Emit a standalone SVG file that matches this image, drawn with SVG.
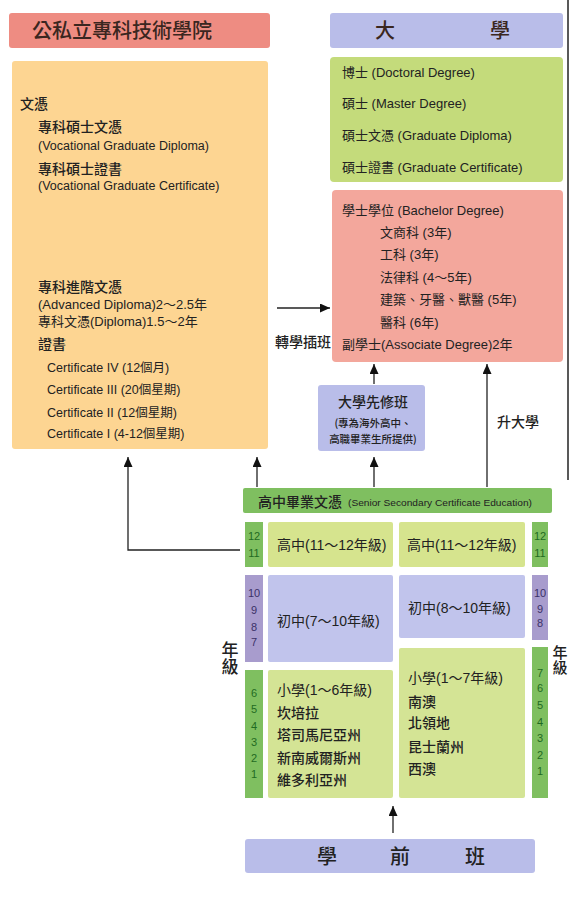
<svg xmlns="http://www.w3.org/2000/svg" width="572" height="907" viewBox="0 0 572 907">
<defs>
<marker id="arr" markerUnits="userSpaceOnUse" markerWidth="10" markerHeight="9" refX="10" refY="4.5" orient="auto">
<path d="M0,0 L10,4.5 L0,9 z" fill="#111"/>
</marker>
<style>
text{font-family:"Liberation Sans","Noto Sans CJK TC",sans-serif;fill:#222;}
.cj{font-family:"Noto Sans CJK TC","Noto Sans CJK JP",sans-serif;font-weight:500;}
.vt{writing-mode:vertical-rl;}
.hd{font-size:20px;fill:#3a2620;}
.t14{font-size:14px;}
.t13{font-size:13px;}
.t12{font-size:12.5px;}
.num{font-size:11px;text-anchor:middle;}
.gn{fill:#1f6b22;}
.pn{fill:#3b3168;}
.conn{stroke:#222;stroke-width:1.3;fill:none;}
.box{stroke:none;}
</style>
</defs>
<rect width="572" height="907" fill="#ffffff"/>
<line x1="568" y1="0" x2="568" y2="480" stroke="#222" stroke-width="1.5"/>

<g id="hdr-college">
<rect class="box" x="9" y="13" width="261" height="35" rx="3" fill="#ee8c82"/>
<text class="hd cj" x="32" y="38">公私立專科技術學院</text>
</g>

<g id="hdr-university">
<rect class="box" x="330" y="13" width="233" height="35" rx="3" fill="#b9bde9"/>
<text class="hd cj" x="385" y="38" text-anchor="middle">大</text>
<text class="hd cj" x="500" y="38" text-anchor="middle">學</text>
</g>

<g id="college-box">
<rect class="box" x="12" y="61" width="256" height="388" rx="3" fill="#fdd592"/>
<text class="t14 cj" x="20" y="109">文憑</text>
<text class="t14 cj" x="38" y="132">專科碩士文憑</text>
<text class="t12" x="38" y="150">(Vocational Graduate Diploma)</text>
<text class="t14 cj" x="38" y="174">專科碩士證書</text>
<text class="t12" x="38" y="190">(Vocational Graduate Certificate)</text>
<text class="t14 cj" x="38" y="292">專科進階文憑</text>
<text class="t13" x="38" y="309">(Advanced Diploma)2～2.5年</text>
<text class="t13" x="38" y="326">專科文憑(Diploma)1.5～2年</text>
<text class="t14 cj" x="38" y="349">證書</text>
<text class="t12" x="47" y="372">Certificate IV (12個月)</text>
<text class="t12" x="47" y="394">Certificate III (20個星期)</text>
<text class="t12" x="47" y="417">Certificate II (12個星期)</text>
<text class="t12" x="47" y="438">Certificate I  (4-12個星期)</text>
</g>

<g id="postgrad-box">
<rect class="box" x="330" y="57" width="233" height="125" rx="4" fill="#c4db7b"/>
<text class="t13" x="342" y="77">博士 (Doctoral Degree)</text>
<text class="t13" x="342" y="108">碩士 (Master Degree)</text>
<text class="t13" x="342" y="140">碩士文憑 (Graduate Diploma)</text>
<text class="t13" x="342" y="172">碩士證書 (Graduate Certificate)</text>
</g>

<g id="bachelor-box">
<rect class="box" x="332" y="190" width="231" height="172" rx="4" fill="#f3a79c"/>
<text class="t13" x="342" y="215">學士學位 (Bachelor Degree)</text>
<text class="t13" x="380" y="237">文商科 (3年)</text>
<text class="t13" x="380" y="259">工科 (3年)</text>
<text class="t13" x="380" y="282">法律科 (4～5年)</text>
<text class="t13" x="380" y="304">建築、牙醫、獸醫 (5年)</text>
<text class="t13" x="380" y="327">醫科 (6年)</text>
<text class="t13" x="342" y="349">副學士(Associate Degree)2年</text>
</g>

<g id="foundation-box">
<rect class="box" x="318" y="385" width="107" height="66" rx="3" fill="#b9bde9"/>
<text class="t14 cj" x="373" y="407" text-anchor="middle">大學先修班</text>
<text class="cj" x="373" y="427" text-anchor="middle" style="font-size:10.5px">(專為海外高中、</text>
<text class="cj" x="373" y="443" text-anchor="middle" style="font-size:10.5px">高職畢業生所提供)</text>
</g>

<g id="ssce-bar">
<rect class="box" x="243" y="488" width="309" height="25" rx="2" fill="#7fbf60"/>
<text class="t14 cj" x="258" y="507">高中畢業文憑</text>
<text x="348" y="506" style="font-size:9.5px" textLength="184" lengthAdjust="spacingAndGlyphs">(Senior Secondary Certificate Education)</text>
</g>

<g id="senior-high">
<rect class="box" x="245" y="522" width="18" height="45" fill="#7fbf60"/>
<text class="num gn" x="254" y="540">12</text>
<text class="num gn" x="254" y="557">11</text>
<rect class="box" x="268" y="522" width="125" height="45" rx="2" fill="#d6e48e"/>
<text class="t14" x="277" y="550">高中(11～12年級)</text>
<rect class="box" x="399" y="522" width="126" height="45" rx="2" fill="#d6e48e"/>
<text class="t14" x="407" y="550">高中(11～12年級)</text>
<rect class="box" x="532" y="522" width="16" height="45" fill="#7fbf60"/>
<text class="num gn" x="540" y="540">12</text>
<text class="num gn" x="540" y="557">11</text>
</g>

<g id="junior-high">
<rect class="box" x="245" y="575" width="18" height="87" fill="#a89ccd"/>
<text class="num pn" x="254" y="597">10</text>
<text class="num pn" x="254" y="614">9</text>
<text class="num pn" x="254" y="631">8</text>
<text class="num pn" x="254" y="646">7</text>
<rect class="box" x="268" y="575" width="125" height="87" rx="2" fill="#c1c4ec"/>
<text class="t14" x="277" y="626">初中(7～10年級)</text>
<rect class="box" x="399" y="575" width="126" height="63" rx="2" fill="#c1c4ec"/>
<text class="t14" x="408" y="613">初中(8～10年級)</text>
<rect class="box" x="532" y="575" width="16" height="65" fill="#a89ccd"/>
<text class="num pn" x="540" y="597">10</text>
<text class="num pn" x="540" y="613">9</text>
<text class="num pn" x="540" y="627">8</text>
</g>

<g id="primary">
<rect class="box" x="245" y="670" width="18" height="128" fill="#7fbf60"/>
<text class="num gn" x="254" y="697">6</text>
<text class="num gn" x="254" y="713">5</text>
<text class="num gn" x="254" y="730">4</text>
<text class="num gn" x="254" y="746">3</text>
<text class="num gn" x="254" y="762">2</text>
<text class="num gn" x="254" y="778">1</text>
<rect class="box" x="268" y="670" width="125" height="128" rx="2" fill="#d4e495"/>
<text class="t14" x="277" y="695">小學(1～6年級)</text>
<text class="t14 cj" x="277" y="718">坎培拉</text>
<text class="t14 cj" x="277" y="740">塔司馬尼亞州</text>
<text class="t14 cj" x="277" y="763">新南威爾斯州</text>
<text class="t14 cj" x="277" y="785">維多利亞州</text>
<rect class="box" x="399" y="648" width="126" height="150" rx="2" fill="#d4e495"/>
<text class="t14" x="408" y="683">小學(1～7年級)</text>
<text class="t14 cj" x="408" y="707">南澳</text>
<text class="t14 cj" x="408" y="728">北領地</text>
<text class="t14 cj" x="408" y="752">昆士蘭州</text>
<text class="t14 cj" x="408" y="774">西澳</text>
<rect class="box" x="532" y="647" width="16" height="151" fill="#7fbf60"/>
<text class="num gn" x="540" y="677">7</text>
<text class="num gn" x="540" y="692">6</text>
<text class="num gn" x="540" y="709">5</text>
<text class="num gn" x="540" y="726">4</text>
<text class="num gn" x="540" y="742">3</text>
<text class="num gn" x="540" y="759">2</text>
<text class="num gn" x="540" y="775">1</text>
</g>

<g id="grade-labels">
<text class="cj vt" x="230" y="641" style="font-size:17px">年級</text>
<text class="cj vt" x="560" y="645" style="font-size:15px">年級</text>
</g>

<g id="preschool">
<rect class="box" x="245" y="839" width="290" height="34" rx="3" fill="#b9bde9"/>
<text class="hd cj" x="327" y="864" text-anchor="middle" style="fill:#222">學</text>
<text class="hd cj" x="400" y="864" text-anchor="middle" style="fill:#222">前</text>
<text class="hd cj" x="475" y="864" text-anchor="middle" style="fill:#222">班</text>
</g>

<g id="connectors">
<line class="conn" x1="277" y1="308" x2="330" y2="308" marker-end="url(#arr)"/>
<text class="t14 cj" x="275" y="347">轉學插班</text>
<line class="conn" x1="374" y1="384" x2="374" y2="364" marker-end="url(#arr)"/>
<line class="conn" x1="374" y1="487" x2="374" y2="457" marker-end="url(#arr)"/>
<line class="conn" x1="257" y1="487" x2="257" y2="457" marker-end="url(#arr)"/>
<polyline class="conn" points="240,550 128,550 128,457" marker-end="url(#arr)"/>
<line class="conn" x1="487" y1="487" x2="487" y2="364" marker-end="url(#arr)"/>
<text class="t14 cj" x="497" y="427">升大學</text>
<line class="conn" x1="393" y1="833" x2="393" y2="806" marker-end="url(#arr)"/>
</g>
</svg>
